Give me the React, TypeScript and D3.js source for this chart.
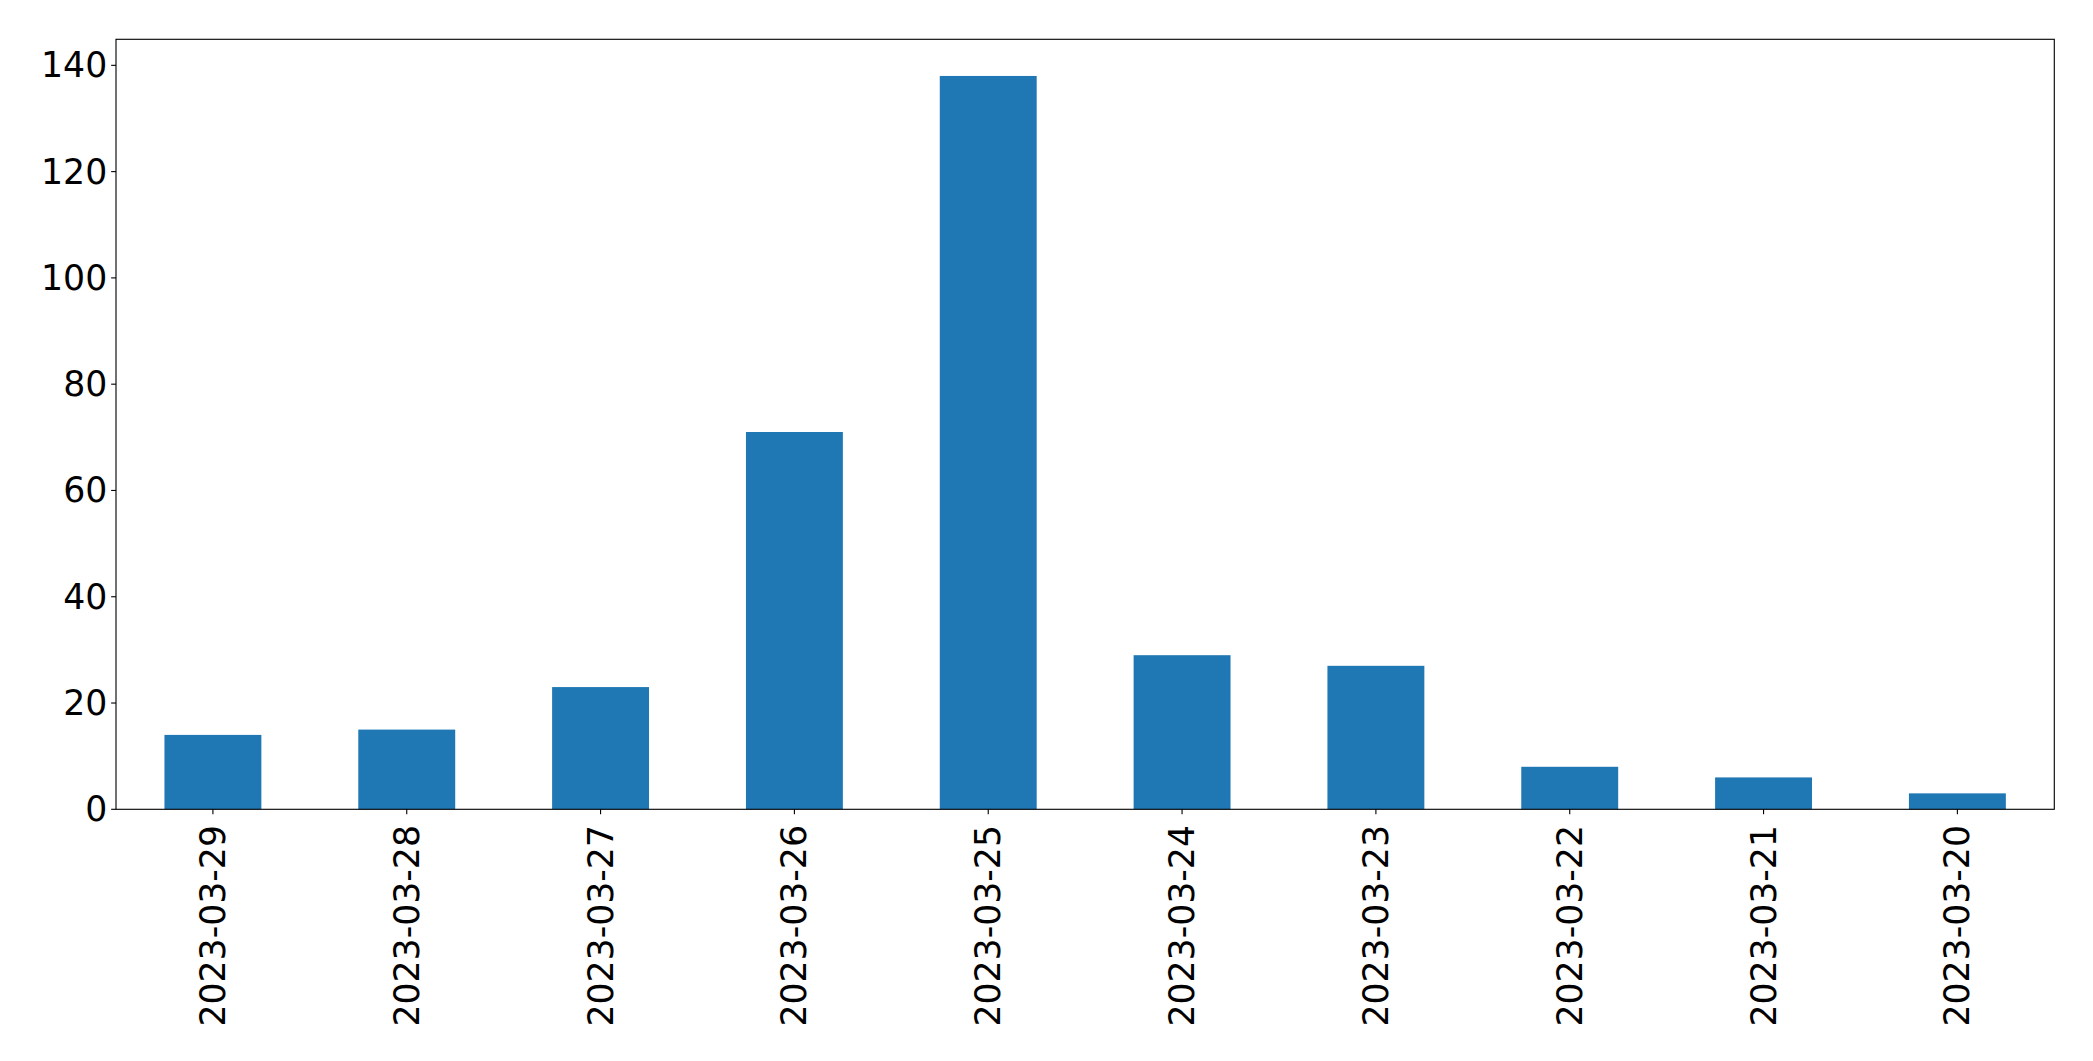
import React from "react";
import * as d3 from "d3";

const categories = [
  "2023-03-29",
  "2023-03-28",
  "2023-03-27",
  "2023-03-26",
  "2023-03-25",
  "2023-03-24",
  "2023-03-23",
  "2023-03-22",
  "2023-03-21",
  "2023-03-20",
];
const values = [14, 15, 23, 71, 138, 29, 27, 8, 6, 3];
const yTicks = [0, 20, 40, 60, 80, 100, 120, 140];

const W = 2093;
const H = 1061;
const M = { left: 116, right: 2054.3, top: 39.3, bottom: 809.3 };
const FONT = "'DejaVu Sans', sans-serif";
const FS = 34.7;
const TICK = 4.86;
const PAD = 4.86;

export default function App() {
  const x = d3
    .scaleBand<string>()
    .domain(categories)
    .range([M.left, M.right])
    .paddingInner(0.5)
    .paddingOuter(0.25);
  const yMax = (d3.max(values) as number) * 1.05;
  const y = d3.scaleLinear().domain([0, yMax]).range([M.bottom, M.top]);

  return (
    <svg
      width={W}
      height={H}
      style={{ position: "absolute", left: 0, top: 0, display: "block", background: "#fff" }}
      fontFamily={FONT}
    >
      <rect x={0} y={0} width={W} height={H} fill="#fff" />
      {categories.map((c, i) => (
        <rect
          key={c}
          x={x(c)}
          y={y(values[i])}
          width={x.bandwidth()}
          height={y(0) - y(values[i])}
          fill="#1f77b4"
        />
      ))}
      {yTicks.map((t) => (
        <g key={t}>
          <line x1={M.left - TICK} x2={M.left} y1={y(t)} y2={y(t)} stroke="#000" strokeWidth={1.11} />
          <text
            x={M.left - TICK - PAD + 1}
            y={y(t)}
            textAnchor="end"
            dominantBaseline="central"
            fontSize={FS}
            fill="#000"
          >
            {t}
          </text>
        </g>
      ))}
      {categories.map((c) => {
        const cx = (x(c) as number) + x.bandwidth() / 2;
        const ty = M.bottom + TICK + PAD + 6;
        return (
          <g key={c}>
            <line x1={cx} x2={cx} y1={M.bottom} y2={M.bottom + TICK} stroke="#000" strokeWidth={1.11} />
            <text
              transform={`translate(${cx},${ty}) rotate(-90)`}
              textAnchor="end"
              dominantBaseline="central"
              fontSize={FS}
              fill="#000"
            >
              {c}
            </text>
          </g>
        );
      })}
      <rect
        x={M.left}
        y={M.top}
        width={M.right - M.left}
        height={M.bottom - M.top}
        fill="none"
        stroke="#000"
        strokeWidth={1.11}
      />
    </svg>
  );
}
